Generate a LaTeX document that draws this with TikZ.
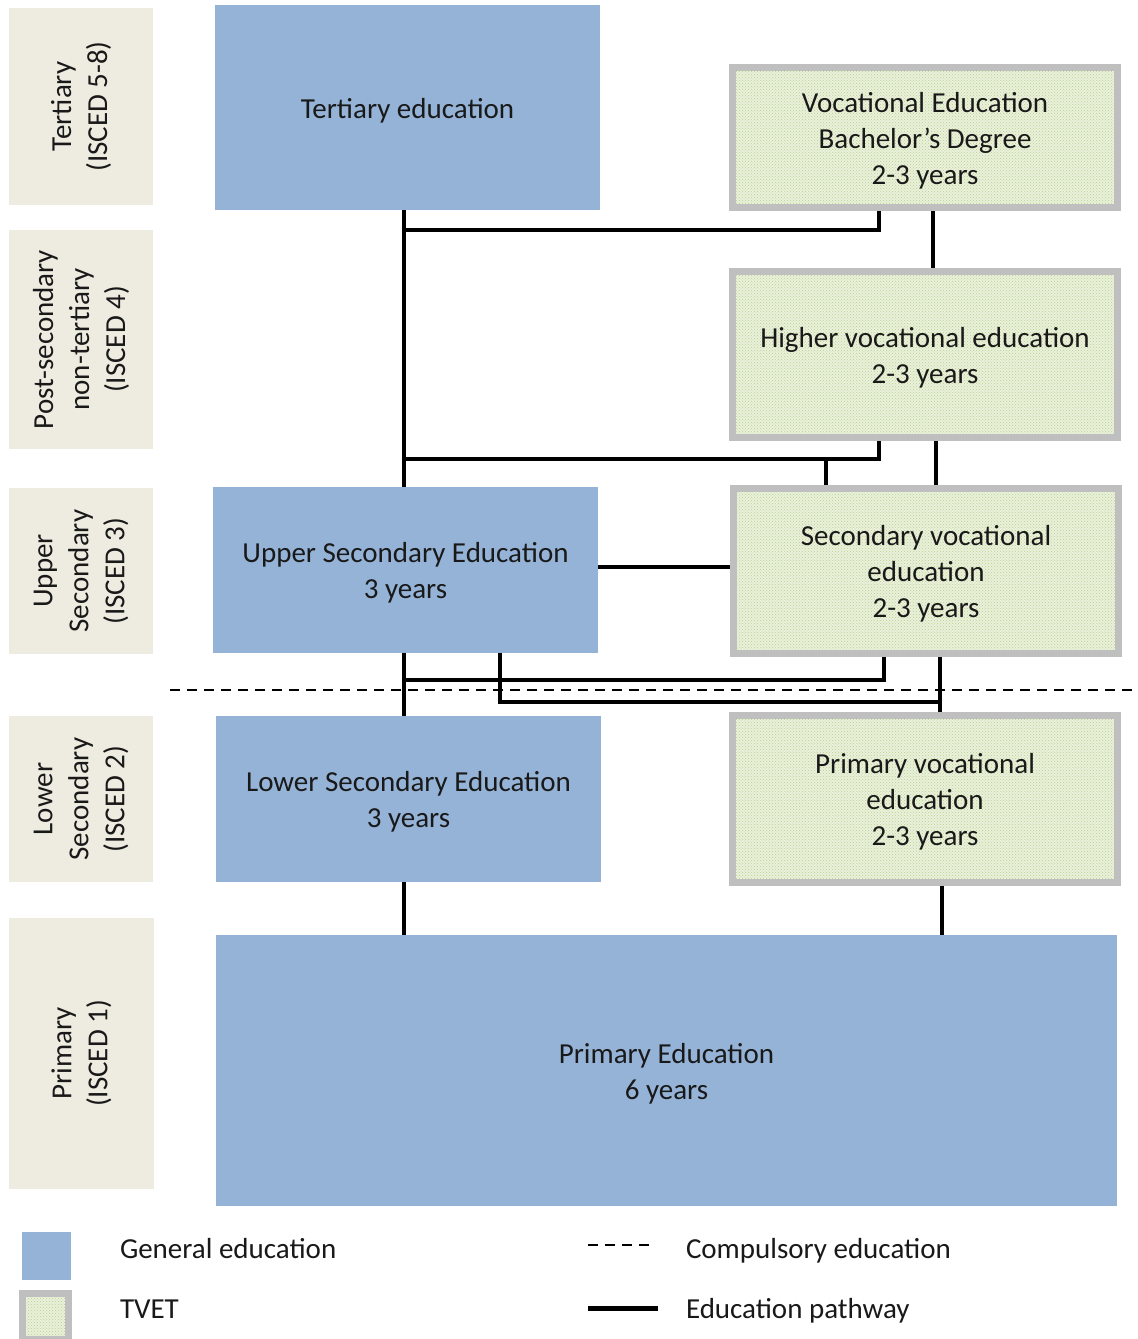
\documentclass[tikz,border=0pt]{standalone}
\usepackage{fontspec}
\setmainfont{Carlito}
\usetikzlibrary{patterns}
\definecolor{genblue}{RGB}{149,179,215}
\definecolor{lvlbg}{RGB}{238,236,225}
\definecolor{tvetborder}{RGB}{191,191,191}
\definecolor{tvetfill}{RGB}{234,241,220}
\definecolor{tvetdot}{RGB}{184,208,140}
\definecolor{txt}{RGB}{25,25,25}
\newcommand\topstrut{\rule{0pt}{26.5pt}}
\begin{document}
\begin{tikzpicture}[x=1pt,y=-1pt,
  every node/.style={font=\fontsize{29}{36}\selectfont, text=txt, align=center, inner sep=0pt, outer sep=0pt},
  levelbox/.style={fill=lvlbg, rotate=90},
  genbox/.style={fill=genblue},
  tvetbox/.style={draw=tvetborder, line width=7pt, outer sep=3.5pt, preaction={fill=tvetfill}, pattern=crosshatch dots, pattern color=tvetdot},
  pathline/.style={draw=black, line width=4pt},
  compline/.style={draw=black, line width=2.5pt, dash pattern=on 10pt off 7pt},
  legtext/.style={anchor=base west}]
\fill[white] (0,0) rectangle (1138,1339);
\clip (0,0) rectangle (1138,1339);
\useasboundingbox (0,0) rectangle (1138,1339);

% level labels
\node[levelbox, minimum width=197pt, minimum height=144pt] (lt) at (81,106.5) {Tertiary\\(ISCED 5-8)};
\node[levelbox, minimum width=219pt, minimum height=144pt] (lp) at (81,339.5) {Post-secondary\\non-tertiary\\(ISCED 4)};
\node[levelbox, minimum width=166pt, minimum height=144pt] (lu) at (81,571) {Upper\\Secondary\\(ISCED 3)};
\node[levelbox, minimum width=166pt, minimum height=144pt] (ll) at (81,799) {Lower\\Secondary\\(ISCED 2)};
\node[levelbox, minimum width=271pt, minimum height=145pt] (lpr) at (81.5,1053.5) {Primary\\(ISCED 1)};

% general education boxes
\node[genbox, minimum width=385pt, minimum height=205pt] (tert) at (407.5,107.5) {\topstrut Tertiary education};
\node[genbox, minimum width=385pt, minimum height=166pt] (usec) at (405.5,570) {\topstrut Upper Secondary Education\\3 years};
\node[genbox, minimum width=385pt, minimum height=166pt] (lsec) at (408.5,799) {\topstrut Lower Secondary Education\\3 years};
\node[genbox, minimum width=901pt, minimum height=271pt] (prim) at (666.5,1070.5) {\topstrut Primary Education\\6 years};

% TVET boxes
\node[tvetbox, minimum width=385pt, minimum height=140pt] (vb) at (925,137.5) {\topstrut Vocational Education\\Bachelor’s Degree\\2-3 years};
\node[tvetbox, minimum width=385pt, minimum height=166pt] (hv) at (925,354.5) {\topstrut Higher vocational education\\2-3 years};
\node[tvetbox, minimum width=385pt, minimum height=165pt] (sv) at (926,571) {\topstrut Secondary vocational\\education\\2-3 years};
\node[tvetbox, minimum width=385pt, minimum height=167pt] (pv) at (925,799) {\topstrut Primary vocational\\education\\2-3 years};

% helper coordinates
\coordinate (xa) at (404,0);
\coordinate (xb) at (879,0);
\coordinate (xc) at (933,0);
\coordinate (xd) at (826,0);
\coordinate (xe) at (936,0);
\coordinate (xf) at (884,0);
\coordinate (xg) at (500,0);
\coordinate (xh) at (940,0);
\coordinate (xi) at (942,0);
\coordinate (ya) at (0,230);
\coordinate (yb) at (0,459);
\coordinate (yc) at (0,680);
\coordinate (yd) at (0,702);
\coordinate (ye) at (0,567);

% pathways
\draw[pathline] (xa |- tert.south) -- (xa |- usec.north);
\draw[pathline] (xa |- usec.south) -- (xa |- lsec.north);
\draw[pathline] (xa |- lsec.south) -- (xa |- prim.north);
\draw[pathline] (xa |- ya) -| (xb |- vb.south);
\draw[pathline] (xc |- vb.south) -- (xc |- hv.north);
\draw[pathline] (xa |- yb) -| (xb |- hv.south);
\draw[pathline] (xd |- yb) -- (xd |- sv.north);
\draw[pathline] (xe |- hv.south) -- (xe |- sv.north);
\draw[pathline] (usec.east |- ye) -- (sv.west |- ye);
\draw[pathline] (xa |- yc) -| (xf |- sv.south);
\draw[pathline] (xg |- usec.south) |- (xh |- yd);
\draw[pathline] (xh |- sv.south) -- (xh |- pv.north);
\draw[pathline] (xi |- pv.south) -- (xi |- prim.north);

% compulsory education line
\coordinate (dl) at (170,690);
\coordinate (dr) at (1138,690);
\draw[compline] (dl) -- (dr);

% legend
\node[genbox, minimum width=49pt, minimum height=48pt] (leggen) at (46.5,1256) {};
\node[tvetbox, minimum width=46pt, minimum height=46pt] (legtvet) at (45.5,1316.5) {};
\node[legtext] (lgt) at (120,1258) {General education};
\node[legtext] (ltt) at (120,1318) {TVET};
\coordinate (ld1) at (588,1245);
\coordinate (ld2) at (656,1245);
\draw[compline] (ld1) -- (ld2);
\coordinate (ls1) at (588,1308);
\coordinate (ls2) at (658,1308);
\draw[pathline, line width=5pt] (ls1) -- (ls2);
\node[legtext] (lct) at (686,1258) {Compulsory education};
\node[legtext] (lpt) at (686,1318) {Education pathway};
\end{tikzpicture}
\end{document}
